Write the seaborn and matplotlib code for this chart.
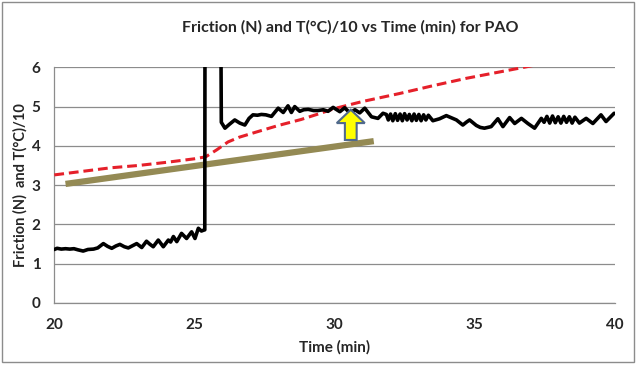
import numpy as np
import pandas as pd
import matplotlib
matplotlib.use("Agg")
import matplotlib.pyplot as plt
from matplotlib.patches import FancyArrow, Rectangle
import seaborn as sns

# friction trace (N); the spike goes off scale
time_fric = [20.00, 20.10, 20.25, 20.40, 20.55, 20.70, 20.85, 21.03, 21.20, 21.40,
             21.55, 21.75, 21.90, 22.05, 22.20, 22.34, 22.50, 22.64, 22.80, 22.94,
             23.12, 23.29, 23.40, 23.53, 23.71, 23.89, 24.07, 24.15, 24.25, 24.37,
             24.54, 24.72, 24.90, 25.02, 25.14, 25.25, 25.32, 25.37, 25.38, 25.93,
             25.96, 26.09, 26.25, 26.44, 26.62, 26.80, 26.95, 27.09, 27.25, 27.39,
             27.55, 27.75, 27.99, 28.17, 28.34, 28.46, 28.58, 28.76, 28.90, 29.06,
             29.25, 29.41, 29.60, 29.77, 29.95, 30.19, 30.36, 30.55, 30.73, 30.90,
             31.08, 31.32, 31.55, 31.73, 31.85, 31.92, 32.00, 32.08, 32.17, 32.25,
             32.34, 32.42, 32.50, 32.59, 32.67, 32.76, 32.84, 32.92, 33.01, 33.09,
             33.18, 33.26, 33.35, 33.51, 33.75, 33.99, 34.15, 34.35, 34.58, 34.70,
             34.82, 35.06, 35.20, 35.35, 35.59, 35.83, 36.01, 36.25, 36.43, 36.67,
             36.90, 37.14, 37.38, 37.48, 37.58, 37.68, 37.78, 37.88, 37.98, 38.08,
             38.18, 38.28, 38.38, 38.48, 38.58, 38.74, 38.98, 39.22, 39.51, 39.69,
             39.98]
friction = [1.36, 1.39, 1.37, 1.38, 1.37, 1.38, 1.35, 1.32, 1.36, 1.37,
            1.40, 1.51, 1.44, 1.39, 1.45, 1.49, 1.43, 1.40, 1.46, 1.51,
            1.41, 1.57, 1.50, 1.43, 1.60, 1.43, 1.60, 1.55, 1.69, 1.56,
            1.77, 1.64, 1.81, 1.64, 1.90, 1.83, 1.85, 1.86, 9.00, 9.00,
            4.60, 4.45, 4.55, 4.66, 4.58, 4.53, 4.70, 4.79, 4.78, 4.80,
            4.79, 4.75, 4.96, 4.85, 5.02, 4.85, 5.00, 4.88, 4.92, 4.93,
            4.90, 4.90, 4.92, 4.88, 4.98, 4.87, 4.97, 4.84, 4.92, 4.84,
            4.96, 4.74, 4.70, 4.83, 4.80, 4.66, 4.81, 4.64, 4.82, 4.65,
            4.81, 4.64, 4.82, 4.66, 4.80, 4.64, 4.81, 4.65, 4.80, 4.64,
            4.79, 4.66, 4.78, 4.64, 4.69, 4.77, 4.72, 4.66, 4.53, 4.60,
            4.66, 4.52, 4.47, 4.45, 4.49, 4.69, 4.49, 4.72, 4.57, 4.70,
            4.57, 4.45, 4.70, 4.60, 4.75, 4.58, 4.76, 4.59, 4.74, 4.58,
            4.75, 4.60, 4.74, 4.58, 4.73, 4.58, 4.70, 4.57, 4.79, 4.62,
            4.83]

# temperature / 10
time_temp = [20.0, 21.0, 22.0, 23.0, 24.0, 25.0, 25.4, 25.8, 26.2, 26.6,
             27.2, 28.0, 28.8, 29.5, 30.0, 31.0, 32.3, 33.5, 34.7, 35.8,
             36.75, 38.0, 40.0]
temp10 = [3.26, 3.35, 3.44, 3.50, 3.58, 3.67, 3.72, 3.90, 4.10, 4.22,
          4.35, 4.52, 4.67, 4.83, 4.95, 5.13, 5.33, 5.53, 5.72, 5.87,
          6.00, 6.18, 6.45]

# baseline trend line
trend_t = [20.4, 31.4]
trend_y = [3.03, 4.12]

# arrow marking the transition
arrow_x = 30.58
arrow_y0 = 4.15
arrow_y1 = 4.92

df_f = pd.DataFrame({"t": time_fric, "f": friction})
df_t = pd.DataFrame({"t": time_temp, "T": temp10})
df_tr = pd.DataFrame({"t": trend_t, "y": trend_y})

sns.set_style("white")
plt.rcParams["font.family"] = ["Lato", "DejaVu Sans"]

fig = plt.figure(figsize=(6.39, 3.68), dpi=100)
ax = fig.add_axes([0.085, 0.177, 0.877, 0.640])

sns.lineplot(data=df_tr, x="t", y="y", ax=ax, color="#948a54", lw=4.5,
             solid_capstyle="butt", sort=False, estimator=None, zorder=2)
sns.lineplot(data=df_t, x="t", y="T", ax=ax, color="#e5202a", lw=2.2,
             linestyle=(0, (3.2, 1.6)), sort=False, estimator=None, zorder=3)
sns.lineplot(data=df_f, x="t", y="f", ax=ax, color="black", lw=2.6,
             solid_joinstyle="round", sort=False, estimator=None, zorder=4)

ax.add_patch(FancyArrow(arrow_x, arrow_y0, 0, arrow_y1 - arrow_y0, width=0.42,
                        head_width=1.0, head_length=0.34, length_includes_head=True,
                        facecolor="#ffff00", edgecolor="#50698c", lw=1.5, zorder=5))

ax.set_xlim(20, 40)
ax.set_ylim(0, 6)
ax.set_xticks([20, 25, 30, 35, 40])
ax.set_yticks([0, 1, 2, 3, 4, 5, 6])
ax.yaxis.grid(True, color="#8c8c8c", lw=0.9)
ax.set_axisbelow(True)
for s in ["top", "right"]:
    ax.spines[s].set_visible(False)
for s in ["left", "bottom"]:
    ax.spines[s].set_color("#8c8c8c")
    ax.spines[s].set_linewidth(0.9)
ax.tick_params(axis="both", direction="out", length=4, color="#8c8c8c",
               labelsize=11)
ax.tick_params(axis="x", pad=7)
ax.tick_params(axis="y", pad=6)
for lab in ax.get_xticklabels() + ax.get_yticklabels():
    lab.set_fontweight("bold")

ax.set_xlabel("Time (min)", fontsize=11, fontweight="bold", labelpad=6)
ax.set_ylabel("Friction (N)  and T(°C)/10", fontsize=10.5, fontweight="bold", labelpad=3)
fig.text(0.548, 0.925, "Friction (N) and T(°C)/10 vs Time (min) for PAO",
         ha="center", va="center", fontsize=11.5, fontweight="bold")

fig.add_artist(Rectangle((2 / 639, 6 / 368), 632 / 639, 360 / 368,
                         transform=fig.transFigure, fill=False,
                         edgecolor="#8c8c8c", lw=1.0))

fig.savefig("out.png", dpi=100)
